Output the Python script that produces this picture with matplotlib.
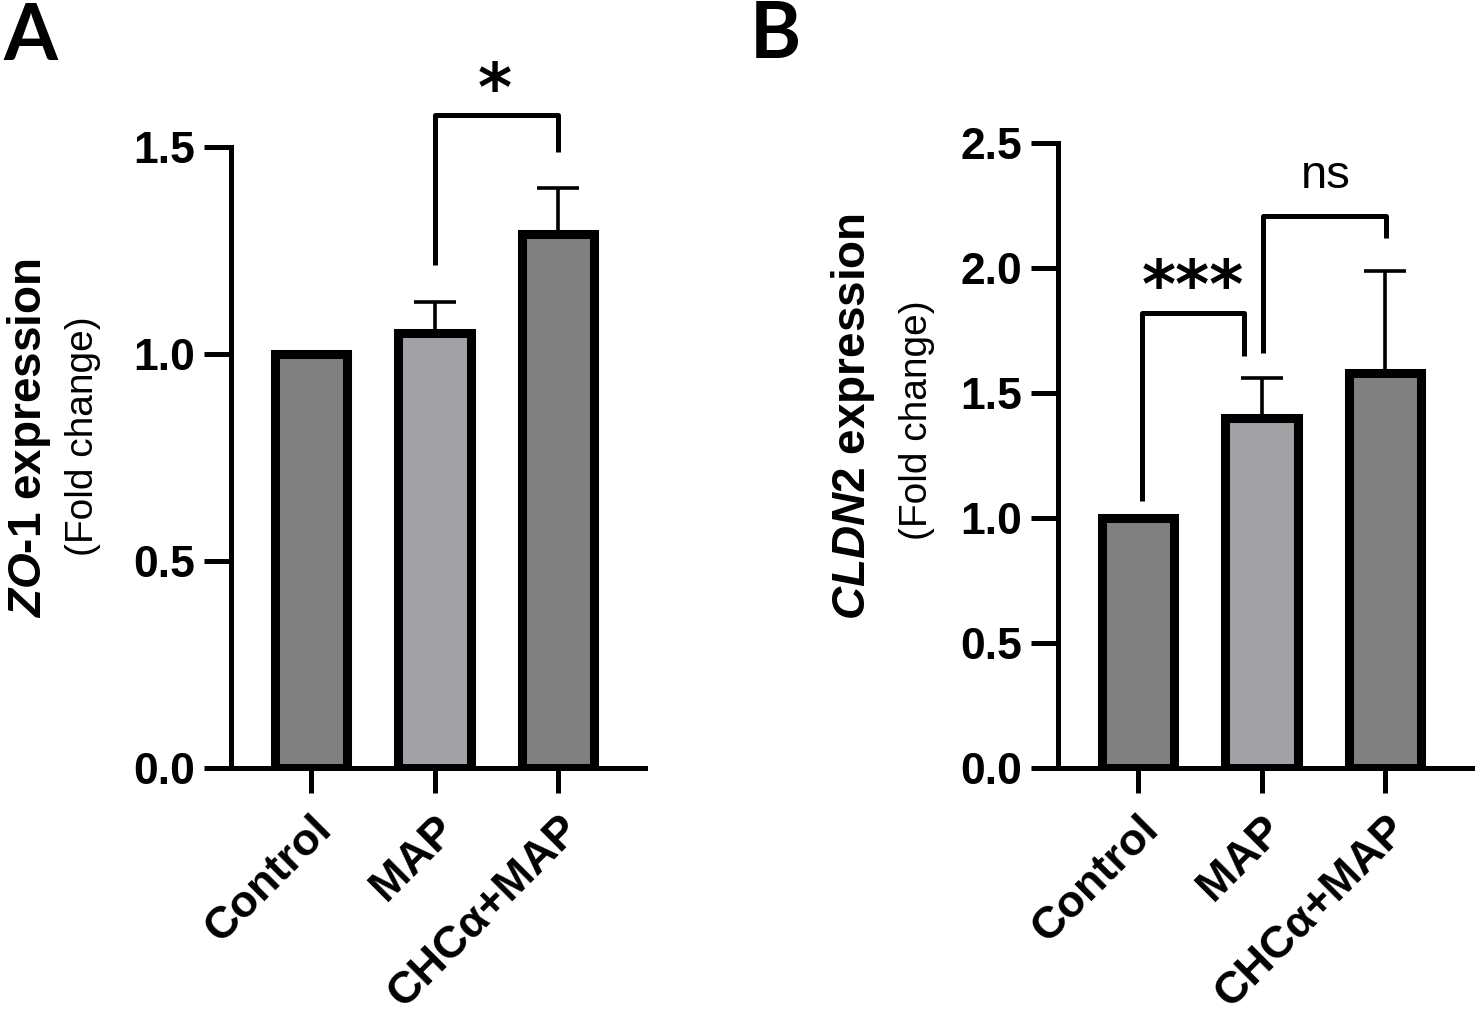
import matplotlib
matplotlib.use("Agg")
import matplotlib.pyplot as plt
import numpy as np

plt.rcParams["font.family"] = ["Liberation Sans", "DejaVu Sans"]
plt.rcParams["mathtext.fontset"] = "custom"
plt.rcParams["mathtext.it"] = "Liberation Sans:italic:bold"
plt.rcParams["mathtext.rm"] = "Liberation Sans:bold"

# data
groups = ["Control", "MAP", "CHCα+MAP"]
bar_colors = ["#808080", "#a2a2a6", "#808080"]

zo1_mean = [1.00, 1.05, 1.29]
zo1_err = [0.00, 0.075, 0.11]
zo1_ticks = [0.0, 0.5, 1.0, 1.5]

cldn2_mean = [1.00, 1.40, 1.58]
cldn2_err = [0.00, 0.16, 0.41]
cldn2_ticks = [0.0, 0.5, 1.0, 1.5, 2.0, 2.5]

# significance brackets: (x1, y1, x2, y2, top, label, label_x, label_y, bold)
zo1_sig = [(1.0, 1.215, 2.0, 1.488, 1.577, "*", 1.49, 1.59, True)]
cldn2_sig = [
    (0.03, 1.07, 0.86, 1.65, 1.82, "***", 0.445, 1.845, True),
    (1.01, 1.66, 2.01, 2.12, 2.21, "ns", 1.52, 2.32, False),
]

W, H = 1476, 1018
fig = plt.figure(figsize=(W / 100, H / 100), dpi=100)


def px_axes(left, right, top, bottom):
    return fig.add_axes([left / W, 1 - bottom / H, (right - left) / W, (bottom - top) / H])


def draw_panel(ax, means, errs, ticks, sigs):
    x = np.arange(len(groups))
    ax.bar(x, means, width=0.59, color=bar_colors, edgecolor="black",
           linewidth=6.5, zorder=2)
    errs = np.array(errs)
    m = errs > 0
    ax.errorbar(x[m], np.array(means)[m], yerr=[np.zeros(m.sum()), errs[m]],
                fmt="none", ecolor="black", elinewidth=2.6, capsize=15,
                capthick=2.6, zorder=3)
    ax.set_xlim(-0.65, 2.70)
    ax.set_ylim(ticks[0], ticks[-1])
    ax.set_yticks(ticks)
    ax.set_yticklabels([f"{t:.1f}" for t in ticks])
    ax.set_xticks(x)
    ax.set_xticklabels(groups, rotation=45, ha="right", va="top",
                       rotation_mode="anchor")
    for s in ["top", "right"]:
        ax.spines[s].set_visible(False)
    for s in ["left", "bottom"]:
        ax.spines[s].set_linewidth(3.6)
    ax.tick_params(axis="y", length=19.5, width=3.6, pad=6,
                   labelsize=32)
    ax.tick_params(axis="x", length=18, width=3.6, pad=11,
                   labelsize=32.5)
    for lab in ax.get_yticklabels() + ax.get_xticklabels():
        lab.set_fontweight("bold")
    for x1, y1, x2, y2, top, text, tx, ty, bold in sigs:
        ax.plot([x1, x1, x2, x2], [y1, top, top, y2], color="black",
                lw=3.6, clip_on=False, solid_capstyle="butt", zorder=4)
        if bold:
            ax.text(tx, ty, text, ha="center", va="baseline", fontsize=47,
                    fontweight="bold", family="DejaVu Sans", clip_on=False)
        else:
            ax.text(tx, ty, text, ha="center", va="baseline", fontsize=34,
                    clip_on=False)


ax_a = px_axes(230.7, 644.5, 147, 768)
draw_panel(ax_a, zo1_mean, zo1_err, zo1_ticks, zo1_sig)

ax_b = px_axes(1057.7, 1471.5, 143, 768)
draw_panel(ax_b, cldn2_mean, cldn2_err, cldn2_ticks, cldn2_sig)

# y labels
fig.text(29 / W, 1 - 438 / H, r"$\mathit{ZO}$-$\mathit{1}$ expression",
         rotation=90, ha="center", va="center", fontsize=33, fontweight="bold")
fig.text(83 / W, 1 - 436 / H, "(Fold change)", rotation=90, ha="center",
         va="center", fontsize=28)
fig.text(853 / W, 1 - 416 / H, r"$\mathit{CLDN2}$ expression",
         rotation=90, ha="center", va="center", fontsize=33, fontweight="bold")
fig.text(917 / W, 1 - 420 / H, "(Fold change)", rotation=90, ha="center",
         va="center", fontsize=28)

# panel letters
fig.text(3 / W, 1 - 60 / H, "A", fontsize=56, fontweight="bold",
         family="Lato", va="baseline", ha="left")
fig.text(750 / W, 1 - 58 / H, "B", fontsize=56, fontweight="bold",
         family="Lato", va="baseline", ha="left")

fig.savefig("out.png", dpi=100)
